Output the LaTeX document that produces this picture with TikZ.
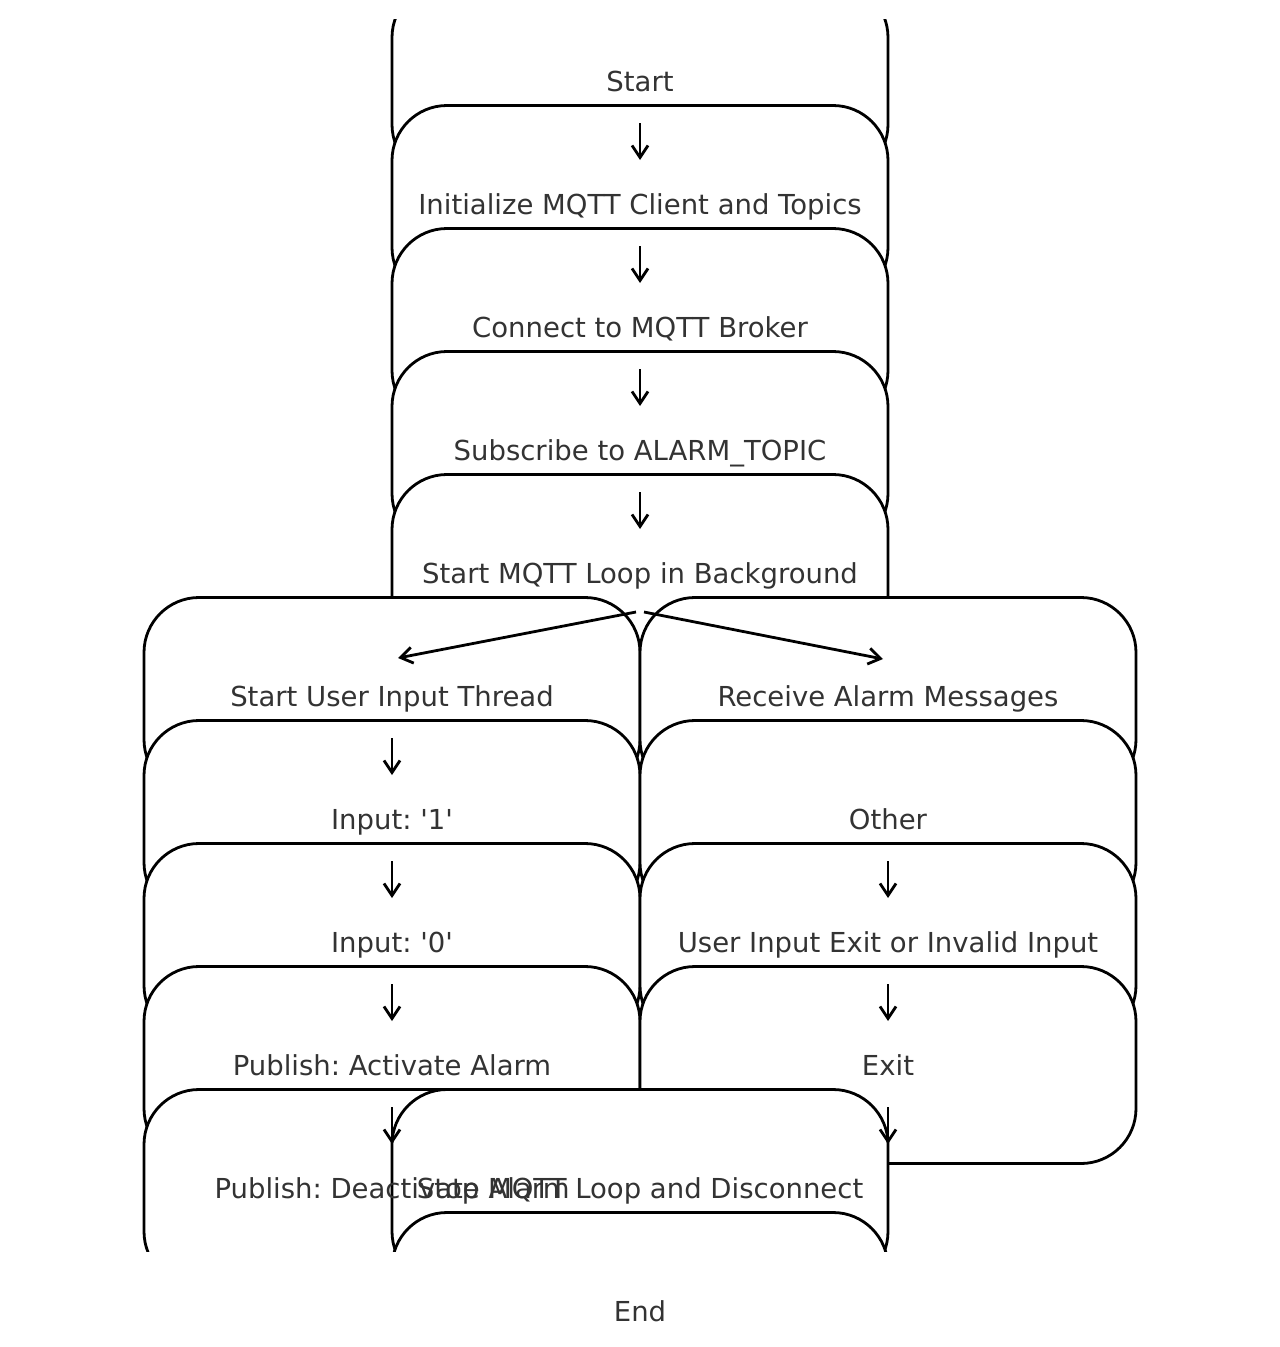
\documentclass[tikz,border=0pt]{standalone}
\usepackage{fontspec}
\setmainfont{DejaVu Sans}
\usetikzlibrary{arrows.meta,calc}
\definecolor{txt}{HTML}{333333}
\newcommand{\sq}{\textquotesingle}
\frenchspacing
\begin{document}
\begin{tikzpicture}[x=1pt,y=-1pt,
  box/.style={draw=black, fill=white, line width=2.8pt, rounded corners=55pt,
              minimum width=496pt, minimum height=197pt, inner sep=0pt},
  lbl/.style={text=txt, font=\fontsize{27.5}{33}\selectfont, inner sep=0pt, anchor=base},
  arr/.style={draw=black, line width=2.8pt, -{Straight Barb[length=12pt,width=16pt]}}]
\useasboundingbox (0,0) rectangle (1280,1347);

% rounded process boxes, drawn in stacking order and cut at the page band
\begin{scope}
  \clip (0,19) rectangle (1280,1251);
  \foreach \n/\x/\y in {start/640/81, init/640/204, conn/640/327, sub/640/450, loop/640/573,
                        user/392/696, in1/392/819, in0/392/942, act/392/1065, deact/392/1188,
                        recv/888/696, other/888/819, uexit/888/942, exit/888/1065,
                        stop/640/1188, end/640/1311}
    \node[box] (\n) at (\x,\y) {};
\end{scope}

% labels on top of all boxes
\foreach \n/\t in {start/Start, init/Initialize MQTT Client and Topics, conn/Connect to MQTT Broker,
                   sub/Subscribe to ALARM\_TOPIC, loop/Start MQTT Loop in Background,
                   user/Start User Input Thread, in1/Input: \sq1\sq, in0/Input: \sq0\sq,
                   act/Publish: Activate Alarm, deact/Publish: Deactivate Alarm,
                   recv/Receive Alarm Messages, other/Other, uexit/User Input Exit or Invalid Input,
                   exit/Exit, stop/Stop MQTT Loop and Disconnect, end/End}
  \node[lbl] (t-\n) at ($(\n.center)+(0,10)$) {\t};

% flow arrows
\foreach \a/\b in {start/init, init/conn, conn/sub, sub/loop,
                   user/in1, in1/in0, in0/act, act/deact,
                   other/uexit, uexit/exit}
  \draw[arr] ($(\a.center)+(0,42)$) -- ($(\b.center)+(0,-44)$);
\coordinate (stopin) at (exit.center |- stop.center);
\draw[arr] ($(exit.center)+(0,42)$) -- ($(stopin)+(0,-44)$);
\draw[arr] ($(loop.center)+(-4,39)$) -- ($(user.center)+(6,-38)$);
\draw[arr] ($(loop.center)+(4,39)$) -- ($(recv.center)+(-5,-37)$);
\end{tikzpicture}
\end{document}
